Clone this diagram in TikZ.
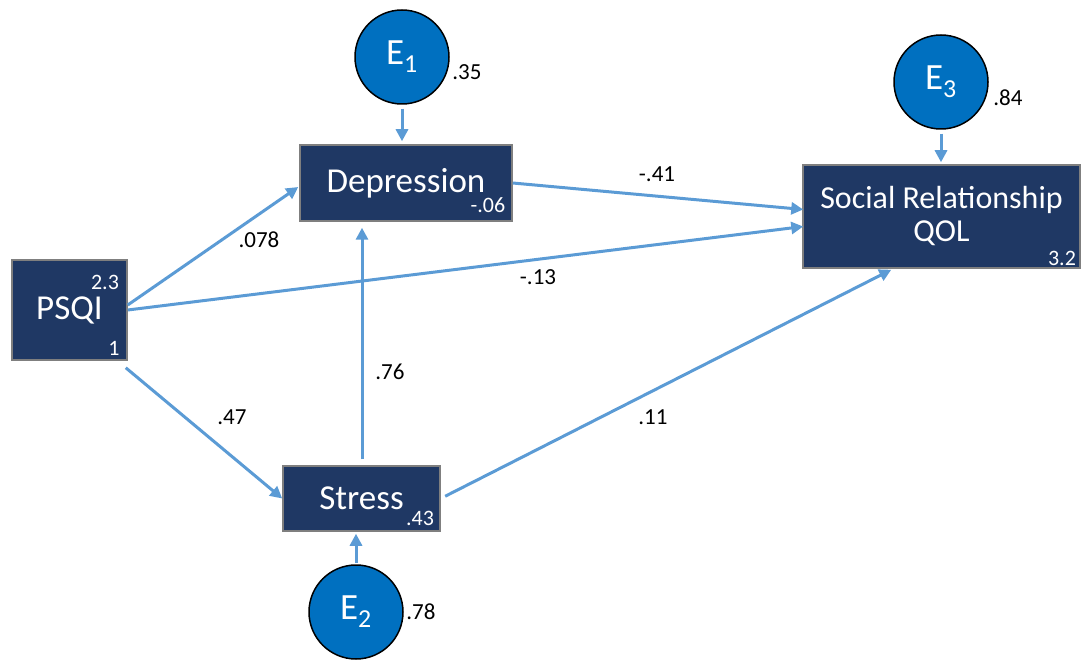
\documentclass[tikz,border=0pt]{standalone}
\usepackage{fontspec}
\setmainfont{Carlito}
\usetikzlibrary{arrows.meta,calc}
\definecolor{navy}{HTML}{1F3864}
\definecolor{boxline}{HTML}{7F7F7F}
\definecolor{errfill}{HTML}{0070C0}
\definecolor{arr}{HTML}{5B9BD5}
\tikzset{
  var/.style={draw=boxline,line width=1.5pt,fill=navy,text=white,inner sep=0pt,align=center,font=\fontsize{35}{40}\selectfont},
  err/.style={circle,draw=black,line width=1.5pt,fill=errfill,text=white,minimum size=94pt,inner sep=0pt,font=\fontsize{37}{40}\selectfont},
  path/.style={draw=arr,line width=3pt,-{Triangle[length=12pt,width=12pt]}},
  coef/.style={font=\fontsize{23}{26}\selectfont,text=black},
  inum/.style={font=\fontsize{22}{24}\selectfont,text=white},
}
\begin{document}
\begin{tikzpicture}[x=1pt,y=-1pt]
\useasboundingbox (0,0) rectangle (1084,660);
% variables
\node[var,minimum width=115pt,minimum height=100pt] (psqi) at (69.5,310) {PSQI};
\node[var,minimum width=212pt,minimum height=76pt] (dep) at (406,183) {Depression};
\node[var,minimum width=277pt,minimum height=103pt,font=\fontsize{32}{33}\selectfont] (soc) at (941.5,216.5) {Social Relationship\\QOL};
\node[var,minimum width=157pt,minimum height=65pt] (str) at (361.5,498.5) {Stress};
% errors
\node[err] (e1) at (402,57) {E\textsubscript{1}};
\node[err] (e3) at (941,82) {E\textsubscript{3}};
\node[err] (e2) at (356,612) {E\textsubscript{2}};
% numbers inside boxes
\node[inum] (n1) at (105,282) {2.3};
\node[inum] (n2) at (114,348) {1};
\node[inum] (n3) at (488,205) {-.06};
\node[inum] (n4) at (1062,258) {3.2};
\node[inum] (n5) at (420,518) {.43};
% error variances
\node[coef] (v1) at (467,72) {.35};
\node[coef] (v3) at (1008,98) {.84};
\node[coef] (v2) at (421,612) {.78};
% paths
\coordinate (sn) at ($(str.north)+(0.5,0)$);
\draw[path,shorten <=4pt,shorten >=3pt] (e1.south) -- (e1.south |- dep.north);
\draw[path,shorten <=4pt,shorten >=2pt] (e3.south) -- (e3.south |- soc.north);
\draw[path,shorten <=1pt,shorten >=2pt] (e2.north) -- (e2.north |- str.south);
\draw[path] ($(psqi.east)+(0,-5)$) -- ($(dep.west)+(-1,4)$);
\draw[path] (psqi.east) -- ($(soc.west)+(1,10)$);
\draw[path] (dep.east) -- ($(soc.west)+(1,-7)$);
\draw[path] ($(psqi.south east)+(-2,7)$) -- (str.west);
\draw[path,shorten <=6pt,shorten >=6pt] (sn) -- (sn |- dep.south);
\draw[path,shorten <=5pt] (str.east) -- ($(soc.south west)+(89,1)$);
% coefficients
\node[coef] (c1) at (259,240) {.078};
\node[coef] (c2) at (538,277) {-.13};
\node[coef] (c3) at (657,174) {-.41};
\node[coef] (c4) at (232,417) {.47};
\node[coef] (c5) at (390,372) {.76};
\node[coef] (c6) at (653,417) {.11};
\end{tikzpicture}
\end{document}
